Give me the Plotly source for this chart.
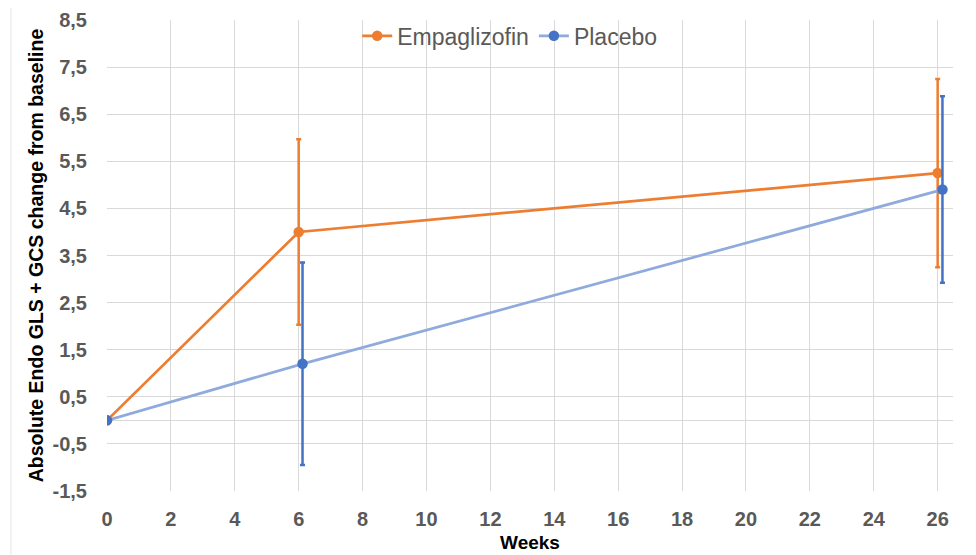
import plotly.graph_objects as go

weeks_emp = [0, 6, 26]
emp_mean = [0.0, 4.0, 5.25]
emp_err = [0.0, 1.97, 2.0]

weeks_pla = [0, 6.12, 26.15]
pla_mean = [0.0, 1.2, 4.9]
pla_err = [0.0, 2.15, 1.98]

x_ticks = list(range(0, 27, 2))
y_tickvals = [8.5, 7.5, 6.5, 5.5, 4.5, 3.5, 2.5, 1.5, 0.5, -0.5, -1.5]
y_ticktext = ["8,5", "7,5", "6,5", "5,5", "4,5", "3,5", "2,5", "1,5", "0,5", "-0,5", "-1,5"]

ORANGE = "#ED7D31"
BLUE = "#4472C4"
BLUE_LINE = "#8FAADC"
GRID = "#D9D9D9"
TICK = "#595959"

fig = go.Figure()
fig.add_trace(go.Scatter(
    x=weeks_emp, y=emp_mean, mode="lines+markers", name="Empaglizofin",
    line=dict(color=ORANGE, width=2.75),
    marker=dict(color=ORANGE, size=10.5),
    error_y=dict(type="data", array=emp_err, visible=True, color=ORANGE, thickness=2.5, width=2.5),
))
fig.add_trace(go.Scatter(
    x=weeks_pla, y=pla_mean, mode="lines+markers", name="Placebo",
    line=dict(color=BLUE_LINE, width=2.75),
    marker=dict(color=BLUE, size=10.5),
    error_y=dict(type="data", array=pla_err, visible=True, color=BLUE, thickness=2.5, width=2.5),
))

fig.update_layout(
    width=968, height=547,
    margin=dict(l=99, r=23, t=12, b=64, autoexpand=False),
    paper_bgcolor="white", plot_bgcolor="white",
    font=dict(family="Liberation Sans, Arial, sans-serif"),
    showlegend=True,
    legend=dict(
        orientation="h", x=0.476, xanchor="center", y=1.012, yanchor="top",
        font=dict(size=23, color=TICK), bgcolor="rgba(0,0,0,0)",
        itemwidth=30, tracegroupgap=0,
    ),
    shapes=[dict(type="line", xref="paper", yref="paper", x0=-0.1135, x1=-0.1135,
                 y0=-0.136, y1=1.032, line=dict(color="#E6E6E6", width=1))],
)

fig.update_xaxes(
    range=[0, 26.48], tickvals=x_ticks, showgrid=True, gridcolor=GRID, gridwidth=1,
    zeroline=False, showline=False, automargin=False,
    ticks="outside", ticklen=10, tickcolor="rgba(0,0,0,0)",
    tickfont=dict(size=20, color=TICK, family="Liberation Sans, Arial", weight="bold"),
    title=dict(text="<b>Weeks</b>", font=dict(size=19, color="black"), standoff=6),
)
fig.update_yaxes(
    range=[-1.5, 8.5], tickvals=y_tickvals, ticktext=y_ticktext,
    showgrid=True, gridcolor=GRID, gridwidth=1,
    zeroline=True, zerolinecolor=GRID, zerolinewidth=1, showline=False, automargin=False,
    ticks="outside", ticklen=15, tickcolor="rgba(0,0,0,0)",
    tickfont=dict(size=20, color=TICK, family="Liberation Sans, Arial", weight="bold"),
    title=dict(text="<b>Absolute Endo GLS + GCS change from baseline</b>",
               font=dict(size=19.5, color="black"), standoff=3),
)

fig.write_html("out.html")
